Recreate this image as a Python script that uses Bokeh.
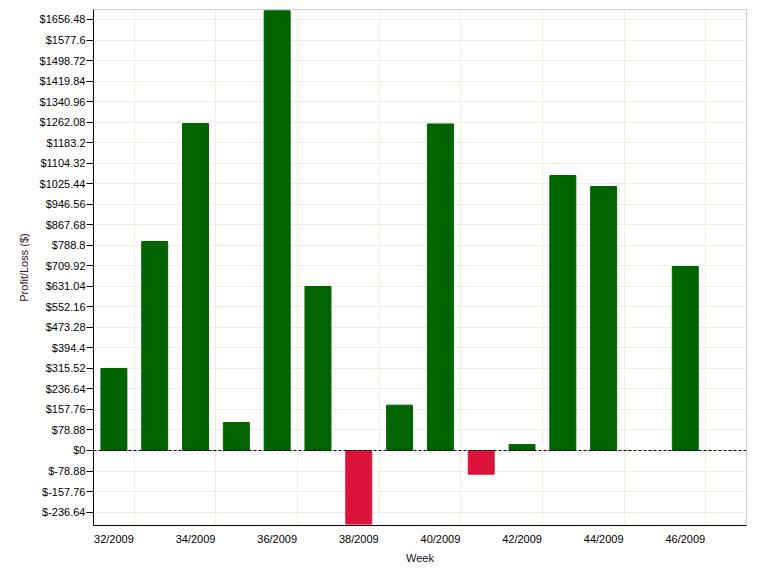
from bokeh.plotting import figure
from bokeh.models import FixedTicker, Span, ColumnDataSource, Range1d
from bokeh.embed import file_html
from bokeh.resources import INLINE

weeks = [32, 33, 34, 35, 36, 37, 38, 39, 40, 41, 42, 43, 44, 46]
profit = [315.2, 803.3, 1256.8, 107.6, 1690.0, 630.3, -283.0, 174.1, 1255.0,
          -91.1, 23.1, 1056.9, 1014.6, 707.2]
x_tick_weeks = [32, 34, 36, 38, 40, 42, 44, 46]
x_tick_labels = ["32/2009", "34/2009", "36/2009", "38/2009", "40/2009",
                 "42/2009", "44/2009", "46/2009"]
y_tick_values = [-236.64, -157.76, -78.88, 0, 78.88, 157.76, 236.64, 315.52,
                 394.4, 473.28, 552.16, 631.04, 709.92, 788.8, 867.68, 946.56,
                 1025.44, 1104.32, 1183.2, 1262.08, 1340.96, 1419.84, 1498.72,
                 1577.6, 1656.48]
y_tick_labels = ["$-236.64", "$-157.76", "$-78.88", "$0", "$78.88", "$157.76",
                 "$236.64", "$315.52", "$394.4", "$473.28", "$552.16",
                 "$631.04", "$709.92", "$788.8", "$867.68", "$946.56",
                 "$1025.44", "$1104.32", "$1183.2", "$1262.08", "$1340.96",
                 "$1419.84", "$1498.72", "$1577.6", "$1656.48"]

colors = ["#006400" if v >= 0 else "#DC143C" for v in profit]
src = ColumnDataSource(dict(x=weeks, top=profit, color=colors))

p = figure(width=756, height=567, output_backend="svg", toolbar_location=None,
           x_range=Range1d(31.5, 47.5), y_range=Range1d(-288.3, 1694.9),
           frame_width=653, frame_height=516,
           min_border_left=93, min_border_top=9, min_border_right=10,
           min_border_bottom=42)
p.background_fill_color = "white"
p.outline_line_color = "#d0d0d0"

p.vbar(x="x", top="top", bottom=0, width=0.636, color="color", source=src)

p.add_layout(Span(location=0, dimension="width", line_color="black",
                  line_width=1, line_dash="3 2"))

grid_color = "#efefe0"
p.xgrid.ticker = FixedTicker(ticks=[w + 0.5 for w in x_tick_weeks])
p.xgrid.grid_line_color = grid_color
p.ygrid.grid_line_color = grid_color

p.xaxis.ticker = FixedTicker(ticks=x_tick_weeks)
p.xaxis.major_label_overrides = {w: l for w, l in zip(x_tick_weeks, x_tick_labels)}
p.yaxis.ticker = FixedTicker(ticks=y_tick_values)
p.yaxis.major_label_overrides = {v: l for v, l in zip(y_tick_values, y_tick_labels)}

for ax in (p.xaxis[0], p.yaxis[0]):
    ax.axis_line_color = "black"
    ax.major_label_text_font = "Liberation Sans"
    ax.major_label_text_font_size = "11px"
    ax.major_label_text_color = "black"
    ax.axis_label_text_font = "Liberation Sans"
    ax.axis_label_text_font_size = "11px"
    ax.axis_label_text_font_style = "normal"
    ax.minor_tick_line_color = None

p.xaxis.axis_label = "Week"
p.xaxis.axis_label_text_color = "#101030"
p.xaxis.major_tick_line_color = None
p.xaxis.major_tick_out = 0
p.xaxis.major_tick_in = 0
p.xaxis.major_label_standoff = 7
p.xaxis.axis_label_standoff = 4

p.yaxis.axis_label = "Profit/Loss ($)"
p.yaxis.axis_label_text_color = "#3a0f2a"
p.yaxis.major_tick_line_color = "black"
p.yaxis.major_tick_out = 7
p.yaxis.major_tick_in = 0
p.yaxis.major_label_standoff = 1
p.yaxis.axis_label_standoff = 7

open("out.html", "w").write(file_html(p, INLINE))
